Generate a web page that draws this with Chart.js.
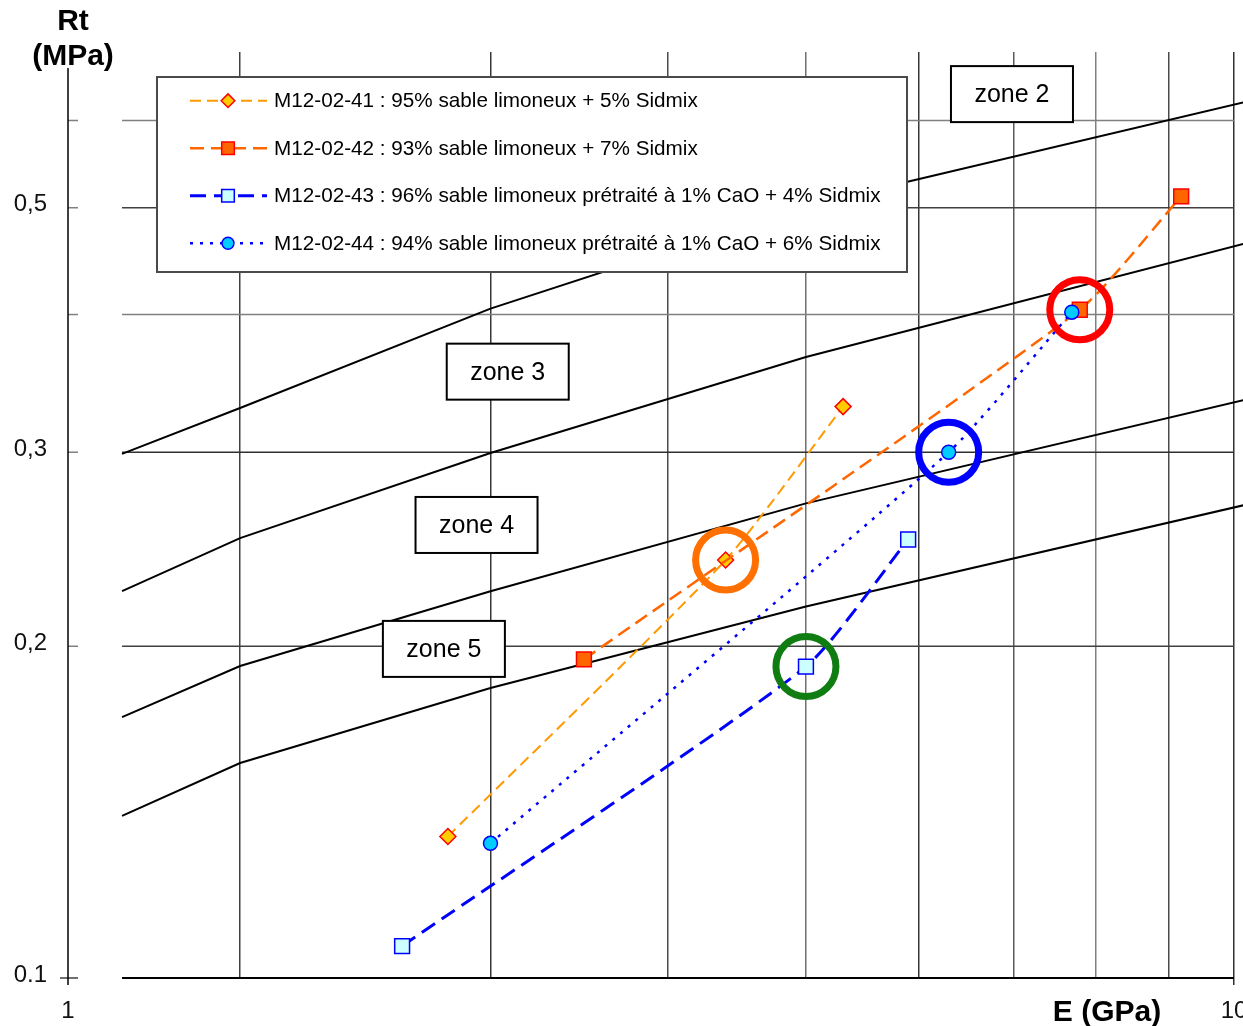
<!DOCTYPE html>
<html lang="fr">
<head>
<meta charset="utf-8">
<title>Rt – E : mélanges sable limoneux + Sidmix</title>
<script src="https://cdn.jsdelivr.net/npm/chart.js@4.4.1/dist/chart.umd.min.js"></script>
<style>
  html, body { margin: 0; padding: 0; background: #fff; }
  #wrap { width: 1243px; height: 1026px; position: relative; }
</style>
</head>
<body>
<div id="wrap"><canvas id="c" width="1243" height="1026"></canvas></div>
<script>
// ---- Mesures : module E (GPa) et résistance en traction Rt (MPa) ----
const e41  = [2.80, 4.39, 5.31];
const rt41 = [0.1344, 0.2395, 0.330];
const e42  = [3.49, 7.79, 9.18];
const rt42 = [0.1946, 0.404, 0.512];
const e43  = [2.60, 5.00, 5.90];
const rt43 = [0.1069, 0.1917, 0.250];
const e44  = [3.00, 6.30, 7.69];
const rt44 = [0.1325, 0.300, 0.402];

const seriesNames = [
  'M12-02-41 : 95% sable limoneux + 5% Sidmix',
  'M12-02-42 : 93% sable limoneux + 7% Sidmix',
  'M12-02-43 : 96% sable limoneux prétraité à 1% CaO + 4% Sidmix',
  'M12-02-44 : 94% sable limoneux prétraité à 1% CaO + 6% Sidmix'
];

// ---- Abaque de classement : limites entre zones ----
const zoneE     = [1.652, 2, 3, 5, 10.15];
const limit23   = [0.299, 0.329, 0.405, 0.502, 0.623];
const limit34   = [0.2244, 0.2507, 0.2995, 0.366, 0.4636];
const limit45   = [0.1725, 0.1919, 0.2244, 0.2696, 0.3345];
const limit56   = [0.1403, 0.1567, 0.1833, 0.2173, 0.2685];

// ---- Axes ----
const eMin = 1.5136, eMax = 10;
const rtMin = 0.1, rtMax = 0.6923;
const eTicks      = [eMin, 2, 3, 4, 5, 6, 7, 8, 9, 10];
const eTickLabels = ['1', '', '', '', '', '', '', '', '', '10'];
const rtTicks      = [0.1, 0.2, 0.3, 0.4, 0.5, 0.6];
const rtTickLabels = ['0.1', '0,2', '0,3', '', '0,5', ''];

// ---------------------------------------------------------------
const FONT = '"Liberation Sans", Arial, Helvetica, sans-serif';
Chart.defaults.font.family = FONT;

const pts = (es, rts) => es.map((e, i) => ({ x: e, y: rts[i] }));
const seriesE  = [e41, e42, e43, e44];
const seriesRt = [rt41, rt42, rt43, rt44];

const seriesStyle = [
  { line: '#FF9900', width: 2,   dash: [11, 6], marker: 'rectRot', radius: 8,    fill: '#FFCC00', edge: '#FF0000' },
  { line: '#FF6600', width: 2.5, dash: [14, 7], marker: 'rect',    radius: 10.5, fill: '#FF6600', edge: '#FF0000' },
  { line: '#0000FF', width: 3,   dash: [16, 8], marker: 'rect',    radius: 10.5, fill: '#CCFFFF', edge: '#0000FF' },
  { line: '#0000FF', width: 2.5, dash: [3, 7],  marker: 'circle',  radius: 7,    fill: '#00CCFF', edge: '#0000FF' }
];

const measureSets = seriesNames.map((name, i) => {
  const s = seriesStyle[i];
  return {
    label: name,
    data: pts(seriesE[i], seriesRt[i]),
    showLine: true,
    tension: 0.2,
    borderColor: s.line,
    borderWidth: s.width,
    borderDash: s.dash,
    pointStyle: s.marker,
    pointRadius: s.radius,
    pointHoverRadius: s.radius,
    pointBackgroundColor: s.fill,
    pointBorderColor: s.edge,
    pointBorderWidth: 1.5,
    order: 4 - i,
    isMeasure: true
  };
});

// points entourés
const rings = [
  { p: { x: e41[1], y: rt41[1] }, color: '#FF7000' },
  { p: { x: e43[1], y: rt43[1] }, color: '#0F7D12' },
  { p: { x: e44[1], y: rt44[1] }, color: '#0000FF' },
  { p: { x: e42[1], y: rt42[1] }, color: '#FF0000' }
];
const ringSets = rings.map(r => ({
  label: '',
  data: [r.p],
  showLine: false,
  pointStyle: 'circle',
  pointRadius: 30,
  pointHoverRadius: 30,
  pointBackgroundColor: 'rgba(0,0,0,0)',
  pointBorderColor: r.color,
  pointBorderWidth: 7,
  order: 0
}));

const zoneSets = [limit23, limit34, limit45, limit56].map(lim => ({
  label: '',
  data: pts(zoneE, lim),
  showLine: true,
  tension: 0,
  borderColor: '#000',
  borderWidth: 2,
  pointRadius: 0,
  pointHoverRadius: 0,
  clip: { left: 0, top: 0, right: 12, bottom: 0 },
  order: 10
}));

const zoneTags = [
  { text: 'zone 2', e: 6.98,  rt: 0.634 },
  { text: 'zone 3', e: 3.085, rt: 0.355 },
  { text: 'zone 4', e: 2.933, rt: 0.2577 },
  { text: 'zone 5', e: 2.782, rt: 0.1989 }
];

const vGridColors = ['rgba(0,0,0,0)', '#404040', '#383838', '#4a4a4a', '#707070',
                     '#383838', '#5a5a5a', '#808080', '#4a4a4a', '#303030'];
const hGridColors = ['#000000', '#404040', '#303030', '#808080', '#404040', '#808080'];

function drawMarker(ctx, style, x, y, r, fill, edge, bw) {
  ctx.beginPath();
  if (style === 'rectRot') {
    ctx.moveTo(x, y - r); ctx.lineTo(x + r, y); ctx.lineTo(x, y + r); ctx.lineTo(x - r, y);
    ctx.closePath();
  } else if (style === 'rect') {
    const h = r * Math.SQRT1_2;
    ctx.rect(x - h, y - h, 2 * h, 2 * h);
  } else {
    ctx.arc(x, y, r, 0, Math.PI * 2);
  }
  ctx.fillStyle = fill; ctx.fill();
  ctx.lineWidth = bw; ctx.strokeStyle = edge; ctx.stroke();
}

const abaque = {
  id: 'abaque',
  beforeDatasetsDraw(chart) {
    const { ctx, chartArea: a, scales: { x, y } } = chart;
    const x0 = x.getPixelForValue(zoneE[0]);
    const x1 = x.getPixelForValue(eMax);
    ctx.save();
    rtTicks.forEach((v, i) => {
      const py = y.getPixelForValue(v);
      ctx.strokeStyle = hGridColors[i];
      ctx.lineWidth = i === 0 ? 2 : 1.5;
      ctx.beginPath(); ctx.moveTo(x0, py); ctx.lineTo(x1, py); ctx.stroke();
      ctx.lineWidth = 1.5;
      ctx.strokeStyle = i === 0 ? '#404040' : '#808080';
      ctx.beginPath(); ctx.moveTo(a.left - (i === 0 ? 8 : 0), py); ctx.lineTo(a.left + 10, py); ctx.stroke();
    });
    ctx.strokeStyle = '#000';
    ctx.lineWidth = 1.5;
    ctx.beginPath(); ctx.moveTo(a.left, a.top + 16); ctx.lineTo(a.left, a.bottom + 7); ctx.stroke();
    ctx.restore();
  },
  afterDatasetsDraw(chart) {
    const { ctx, chartArea: a, scales: { x, y } } = chart;
    ctx.save();
    // étiquettes de zones
    ctx.font = '25px ' + FONT;
    ctx.textAlign = 'center';
    ctx.textBaseline = 'middle';
    zoneTags.forEach(t => {
      const cx = x.getPixelForValue(t.e), cy = y.getPixelForValue(t.rt);
      const w = 122, h = 56;
      ctx.fillStyle = '#fff';
      ctx.fillRect(cx - w / 2, cy - h / 2, w, h);
      ctx.strokeStyle = '#000'; ctx.lineWidth = 2;
      ctx.strokeRect(cx - w / 2, cy - h / 2, w, h);
      ctx.fillStyle = '#000';
      ctx.fillText(t.text, cx, cy + 1);
    });
    // légende
    const L = a.left + 89, T = a.top + 25, W = 750, H = 195;
    ctx.fillStyle = '#fff';
    ctx.fillRect(L, T, W, H);
    ctx.strokeStyle = '#4a4a4a'; ctx.lineWidth = 2;
    ctx.strokeRect(L, T, W, H);
    const sets = chart.data.datasets.filter(d => d.isMeasure);
    sets.forEach((d, i) => {
      const cy = T + 23.7 + i * 47.5;
      ctx.save();
      ctx.setLineDash(d.borderDash);
      ctx.strokeStyle = d.borderColor; ctx.lineWidth = d.borderWidth;
      ctx.beginPath(); ctx.moveTo(L + 33, cy); ctx.lineTo(L + 110, cy); ctx.stroke();
      ctx.restore();
      drawMarker(ctx, d.pointStyle, L + 71, cy, d.pointRadius * 0.85, d.pointBackgroundColor, d.pointBorderColor, d.pointBorderWidth);
      ctx.fillStyle = '#000';
      ctx.font = '20.7px ' + FONT;
      ctx.textAlign = 'left';
      ctx.textBaseline = 'middle';
      ctx.fillText(d.label, L + 117, cy + 1);
    });
    ctx.restore();
  },
  afterDraw(chart) {
    const { ctx, chartArea: a } = chart;
    ctx.save();
    ctx.fillStyle = '#000';
    ctx.font = 'bold 30px ' + FONT;
    ctx.textAlign = 'center';
    ctx.textBaseline = 'middle';
    ctx.fillText('Rt', a.left + 5, a.top - 30);
    ctx.fillText('(MPa)', a.left + 5, a.top + 5);
    ctx.fillText('E (GPa)', a.right - 127, a.bottom + 35);
    ctx.restore();
  }
};

new Chart(document.getElementById('c'), {
  type: 'scatter',
  data: { datasets: [...ringSets, ...measureSets, ...zoneSets] },
  options: {
    responsive: false,
    animation: false,
    events: [],
    layout: { autoPadding: false, padding: { left: 0, right: 9, top: 52, bottom: 0 } },
    plugins: { legend: { display: false }, tooltip: { enabled: false } },
    scales: {
      x: {
        type: 'logarithmic',
        min: eMin,
        max: eMax,
        afterBuildTicks: s => { s.ticks = eTicks.map(v => ({ value: v })); },
        afterFit: s => { s.height = 48; s.paddingLeft = 0; s.paddingRight = 0; },
        border: { display: false },
        grid: {
          color: c => vGridColors[c.index] || '#404040',
          lineWidth: 1.5,
          drawTicks: true,
          tickLength: 7,
          tickColor: c => (c.index === eTicks.length - 1 ? '#303030' : 'rgba(0,0,0,0)'),
          tickWidth: 1.5
        },
        ticks: {
          autoSkip: false,
          maxRotation: 0,
          padding: 12,
          color: '#111',
          font: { size: 24 },
          callback: (v, i) => eTickLabels[i]
        }
      },
      y: {
        type: 'logarithmic',
        min: rtMin,
        max: rtMax,
        afterBuildTicks: s => { s.ticks = rtTicks.map(v => ({ value: v })); },
        afterFit: s => { s.width = 68; s.paddingTop = 0; s.paddingBottom = 0; },
        border: { display: false },
        grid: { display: false, drawTicks: false },
        ticks: {
          autoSkip: false,
          padding: 21,
          labelOffset: -3,
          color: '#111',
          font: { size: 24 },
          callback: (v, i) => rtTickLabels[i]
        }
      }
    }
  },
  plugins: [abaque]
});
</script>
</body>
</html>
